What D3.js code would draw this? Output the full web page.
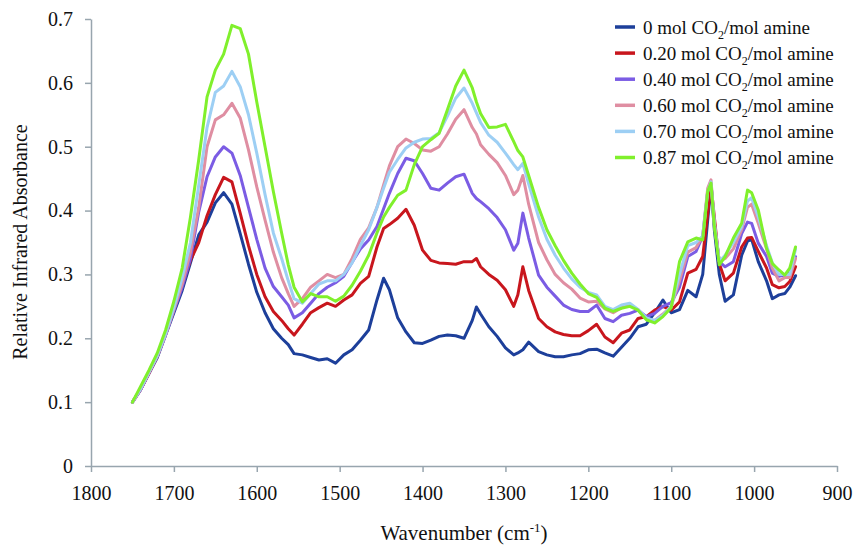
<!DOCTYPE html>
<html>
<head>
<meta charset="utf-8">
<script src="https://cdn.jsdelivr.net/npm/d3@7"></script>
<style>
  body { margin: 0; background: #fff; }
  svg text { font-family: "Liberation Serif", "Times New Roman", Times, "DejaVu Serif", serif; fill: #111; }
</style>
</head>
<body>
<div id="chart"></div>
<script>
// Wavenumbers (cm-1) shared by every spectrum
var wavenumbers = [1750,1740,1730,1720,1710,1700,1690,1680,1670,1660,1650,1640,1630,1620,1610,1600,1590,1580,1570,1562,
  1555,1545,1535,1525,1515,1505,1495,1485,1475,1465,1455,1447,1440,1430,1420,1410,1400,1390,1380,1370,
  1360,1350,1340,1335,1330,1320,1310,1300,1290,1285,1279,1272,1260,1250,1240,1230,1220,1210,1200,1190,
  1180,1170,1160,1150,1140,1130,1120,1110,1100,1090,1080,1070,1062,1056,1052,1048,1042,1035,1025,1015,
  1008,1003,995,985,978,970,963,957,950];

// Relative absorbance for each CO2 loading
var load0 = [0.100,0.120,0.145,0.170,0.205,0.240,0.275,0.318,0.362,0.382,0.412,0.428,0.410,0.364,0.316,0.272,0.240,0.215,0.200,0.190,
  0.176,0.174,0.170,0.166,0.168,0.161,0.174,0.182,0.197,0.213,0.260,0.294,0.276,0.232,0.210,0.193,0.192,0.197,0.203,0.205,
  0.204,0.200,0.228,0.249,0.238,0.218,0.203,0.185,0.174,0.177,0.182,0.194,0.179,0.174,0.171,0.171,0.174,0.176,0.182,0.183,
  0.177,0.172,0.186,0.200,0.218,0.222,0.240,0.260,0.240,0.245,0.275,0.265,0.300,0.385,0.440,0.370,0.300,0.258,0.268,0.330,
  0.352,0.355,0.320,0.290,0.262,0.268,0.270,0.280,0.298];

var load20 = [0.100,0.120,0.145,0.172,0.208,0.245,0.282,0.322,0.350,0.392,0.425,0.452,0.445,0.396,0.345,0.300,0.265,0.242,0.228,0.215,
  0.205,0.222,0.240,0.248,0.255,0.250,0.260,0.268,0.286,0.297,0.343,0.372,0.378,0.388,0.402,0.377,0.338,0.322,0.318,0.317,
  0.316,0.320,0.320,0.325,0.312,0.300,0.291,0.276,0.250,0.268,0.312,0.275,0.231,0.218,0.210,0.206,0.204,0.204,0.212,0.222,
  0.202,0.193,0.208,0.213,0.231,0.234,0.244,0.250,0.244,0.257,0.302,0.308,0.328,0.395,0.440,0.390,0.317,0.290,0.302,0.343,
  0.357,0.358,0.336,0.310,0.284,0.279,0.281,0.289,0.312];

var load40 = [0.100,0.120,0.146,0.172,0.205,0.243,0.280,0.325,0.398,0.453,0.484,0.500,0.490,0.455,0.405,0.355,0.310,0.281,0.265,0.252,
  0.232,0.240,0.255,0.270,0.280,0.287,0.297,0.319,0.340,0.354,0.375,0.403,0.427,0.458,0.482,0.478,0.458,0.435,0.432,0.443,
  0.453,0.457,0.427,0.419,0.414,0.403,0.389,0.370,0.338,0.349,0.396,0.357,0.299,0.280,0.266,0.252,0.245,0.242,0.242,0.252,
  0.231,0.226,0.236,0.239,0.244,0.234,0.239,0.250,0.256,0.280,0.328,0.336,0.360,0.430,0.442,0.380,0.320,0.312,0.320,0.364,
  0.382,0.380,0.349,0.328,0.302,0.297,0.299,0.304,0.328];

var load60 = [0.100,0.121,0.146,0.172,0.206,0.245,0.285,0.335,0.405,0.500,0.542,0.550,0.568,0.545,0.495,0.437,0.385,0.335,0.295,0.270,
  0.250,0.262,0.280,0.290,0.300,0.295,0.300,0.325,0.355,0.373,0.405,0.440,0.470,0.500,0.512,0.505,0.495,0.493,0.500,0.520,
  0.543,0.558,0.530,0.520,0.503,0.488,0.475,0.455,0.425,0.432,0.455,0.410,0.350,0.323,0.300,0.287,0.277,0.263,0.257,0.258,
  0.246,0.240,0.248,0.252,0.245,0.230,0.228,0.238,0.250,0.290,0.335,0.342,0.360,0.435,0.448,0.380,0.320,0.325,0.340,0.370,
  0.405,0.410,0.380,0.340,0.310,0.290,0.295,0.295,0.325];

var load70 = [0.100,0.121,0.147,0.173,0.207,0.248,0.295,0.350,0.440,0.530,0.585,0.595,0.618,0.594,0.550,0.490,0.425,0.365,0.325,0.290,
  0.262,0.255,0.270,0.285,0.290,0.290,0.300,0.318,0.345,0.370,0.405,0.435,0.460,0.480,0.498,0.507,0.512,0.513,0.522,0.548,
  0.576,0.592,0.568,0.553,0.538,0.518,0.507,0.490,0.472,0.464,0.474,0.442,0.390,0.355,0.330,0.310,0.293,0.280,0.272,0.268,
  0.250,0.245,0.252,0.255,0.245,0.232,0.228,0.236,0.250,0.300,0.345,0.350,0.360,0.430,0.445,0.380,0.320,0.330,0.350,0.375,
  0.415,0.420,0.390,0.345,0.318,0.300,0.300,0.300,0.340];

var load87 = [0.100,0.125,0.150,0.177,0.213,0.258,0.310,0.390,0.480,0.578,0.620,0.645,0.690,0.685,0.645,0.570,0.500,0.430,0.365,0.315,
  0.280,0.257,0.270,0.265,0.265,0.258,0.266,0.283,0.305,0.330,0.365,0.390,0.405,0.424,0.432,0.472,0.500,0.511,0.521,0.558,
  0.595,0.620,0.592,0.570,0.552,0.530,0.531,0.535,0.508,0.494,0.484,0.455,0.405,0.370,0.345,0.322,0.302,0.285,0.270,0.264,
  0.247,0.242,0.247,0.250,0.244,0.229,0.224,0.234,0.248,0.320,0.351,0.357,0.354,0.430,0.443,0.375,0.315,0.328,0.357,0.380,
  0.432,0.428,0.401,0.341,0.317,0.307,0.299,0.310,0.343];

var seriesNames = ["0", "0.20", "0.40", "0.60", "0.70", "0.87"];
var seriesValues = [load0, load20, load40, load60, load70, load87];
var seriesColors = ["#1d3f9a", "#c8161d", "#7b5ce4", "#df8ea2", "#9dcff4", "#80f02c"];

var xTicks = [1800, 1700, 1600, 1500, 1400, 1300, 1200, 1100, 1000, 900];
var yTicks = [0, 0.1, 0.2, 0.3, 0.4, 0.5, 0.6, 0.7];

var serifFont = "'Liberation Serif', 'Times New Roman', Times, 'DejaVu Serif', serif";

// SVG area and margins
var svgWidth = 855;
var svgHeight = 546;

var margin = {
    top: 19,
    right: 18,
    bottom: 80,
    left: 91
};

var width = svgWidth - margin.left - margin.right;
var height = svgHeight - margin.top - margin.bottom;

var svg = d3.select("#chart")
    .append("svg")
    .attr("width", svgWidth)
    .attr("height", svgHeight)
    .attr("font-family", serifFont);

var chartGroup = svg.append("g")
    .attr("transform", `translate(${margin.left}, ${margin.top})`);

// Scales (wavenumber runs right to left)
var xScale = d3.scaleLinear()
    .domain([1800, 900])
    .range([0, width]);

var yScale = d3.scaleLinear()
    .domain([0, 0.7])
    .range([height, 0]);

var axisColor = "#98a5ae";

var bottomAxis = d3.axisBottom(xScale)
    .tickValues(xTicks)
    .tickFormat(d3.format("d"))
    .tickSizeInner(6)
    .tickSizeOuter(0)
    .tickPadding(14);

var leftAxis = d3.axisLeft(yScale)
    .tickValues(yTicks)
    .tickFormat(d => d === 0 ? "0" : d3.format(".1f")(d))
    .tickSizeInner(6)
    .tickSizeOuter(0)
    .tickPadding(12);

var xAxis = chartGroup.append("g")
    .attr("transform", `translate(0, ${height})`)
    .call(bottomAxis);

var yAxis = chartGroup.append("g")
    .call(leftAxis);

[xAxis, yAxis].forEach(function(ax) {
    ax.attr("font-family", serifFont).attr("font-size", 20);
    ax.select(".domain").attr("stroke", axisColor).attr("stroke-width", 1.5);
    ax.selectAll(".tick line").attr("stroke", axisColor).attr("stroke-width", 1.5);
    ax.selectAll(".tick text")
        .attr("fill", "#111")
        .style("font-family", serifFont)
        .style("font-size", "20px");
});

// Spectra
var line = d3.line()
    .x((d, i) => xScale(wavenumbers[i]))
    .y(d => yScale(d))
    .curve(d3.curveLinear);

chartGroup.selectAll(".spectrum")
    .data(seriesValues)
    .enter()
    .append("path")
    .attr("class", "spectrum")
    .attr("d", d => line(d))
    .attr("fill", "none")
    .attr("stroke", (d, i) => seriesColors[i])
    .attr("stroke-width", 3)
    .attr("stroke-linejoin", "round")
    .attr("stroke-linecap", "round");

// Axis titles
var xTitle = svg.append("text")
    .attr("x", margin.left + width / 2)
    .attr("y", 540)
    .attr("text-anchor", "middle")
    .style("font-family", serifFont)
    .style("font-size", "21px");
xTitle.append("tspan").text("Wavenumber (cm");
xTitle.append("tspan").attr("dy", -8).style("font-size", "13px").text("-1");
xTitle.append("tspan").attr("dy", 8).text(")");

svg.append("text")
    .attr("transform", "rotate(-90)")
    .attr("x", -242)
    .attr("y", 27)
    .attr("text-anchor", "middle")
    .style("font-family", serifFont)
    .style("font-size", "20px")
    .text("Relative Infrared Absorbance");

// Legend
var legend = svg.append("g")
    .attr("transform", "translate(615, 27)");

var rows = legend.selectAll(".legend-row")
    .data(seriesNames)
    .enter()
    .append("g")
    .attr("class", "legend-row")
    .attr("transform", (d, i) => `translate(0, ${i * 26.1})`);

rows.append("line")
    .attr("x1", 0)
    .attr("x2", 20)
    .attr("y1", 0)
    .attr("y2", 0)
    .attr("stroke", (d, i) => seriesColors[i])
    .attr("stroke-width", 3.5);

var labels = rows.append("text")
    .attr("x", 28)
    .attr("y", 6.5)
    .style("font-family", serifFont)
    .style("font-size", "19px");
labels.append("tspan").text(d => d + " mol CO");
labels.append("tspan").attr("dy", 5).style("font-size", "12px").text("2");
labels.append("tspan").attr("dy", -5).text("/mol amine");
</script>
</body>
</html>
